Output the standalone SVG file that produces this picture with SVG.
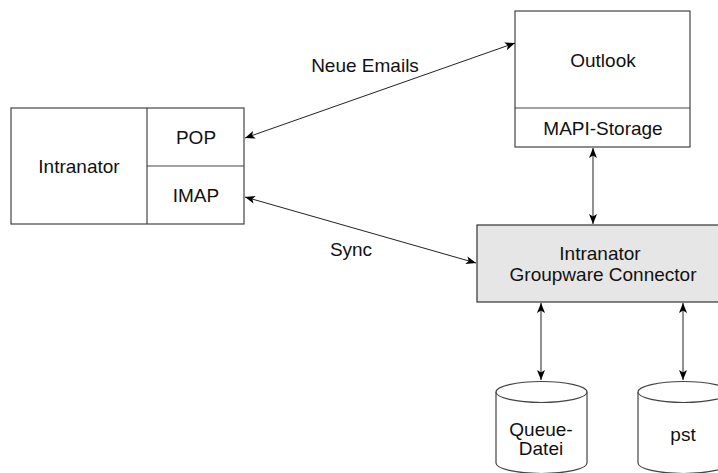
<svg xmlns="http://www.w3.org/2000/svg" width="718" height="473" viewBox="0 0 718 473">
<style>
.box{fill:#fff;stroke:#444;stroke-width:1.2}
.gw{fill:#e6e6e6;stroke:#333;stroke-width:1.2}
.t{font-family:"Liberation Sans",Arial,sans-serif;font-size:19px;fill:#111;text-anchor:middle}
.c{stroke:#222;stroke-width:1;fill:none;marker-start:url(#a);marker-end:url(#a)}
.v{stroke:#555;stroke-width:1.3}
</style>
<defs>
<marker id="a" viewBox="0 0 10 8" refX="10" refY="4" markerWidth="10" markerHeight="8" markerUnits="userSpaceOnUse" orient="auto-start-reverse">
<path d="M0,0 L10,4 L0,8 L2.5,4 Z" fill="#000"/>
</marker>
</defs>
<rect width="718" height="473" fill="#fff"/>
<g id="intranator">
<rect class="box" x="11" y="108" width="233" height="116"/>
<line class="box" x1="147" y1="108" x2="147" y2="224"/>
<line class="box" x1="147" y1="166" x2="244" y2="166"/>
<text class="t" x="79" y="173">Intranator</text>
<text class="t" x="196" y="144">POP</text>
<text class="t" x="196" y="202">IMAP</text>
</g>
<g id="outlook">
<rect class="box" x="515" y="11" width="175" height="136"/>
<line class="box" x1="515" y1="108" x2="690" y2="108"/>
<text class="t" x="603" y="67">Outlook</text>
<text class="t" x="603" y="135">MAPI-Storage</text>
</g>
<g id="groupware">
<rect class="gw" x="477" y="225" width="254" height="77"/>
<text class="t" x="600" y="260">Intranator</text>
<text class="t" x="603" y="281">Groupware Connector</text>
</g>
<g id="queue">
<path class="box" d="M496,392 L496,463 A45.5,10.5 0 0 0 587,463 L587,392"/>
<ellipse class="box" cx="541.5" cy="392" rx="45.5" ry="10.5"/>
<text class="t" x="541" y="436">Queue-</text>
<text class="t" x="541" y="455">Datei</text>
</g>
<g id="pst">
<path class="box" d="M638,392 L638,463 A45.5,10.5 0 0 0 729,463 L729,392"/>
<ellipse class="box" cx="683.5" cy="392" rx="45.5" ry="10.5"/>
<text class="t" x="683" y="441">pst</text>
</g>
<g id="connectors">
<line class="c" x1="245" y1="138" x2="515" y2="43"/>
<text class="t" x="365" y="72">Neue Emails</text>
<line class="c" x1="245" y1="197" x2="476" y2="263"/>
<text class="t" x="351" y="256">Sync</text>
<line class="c v" x1="593" y1="148" x2="593" y2="224"/>
<line class="c v" x1="541" y1="303" x2="541" y2="380"/>
<line class="c v" x1="683" y1="303" x2="683" y2="380"/>
</g>
</svg>
